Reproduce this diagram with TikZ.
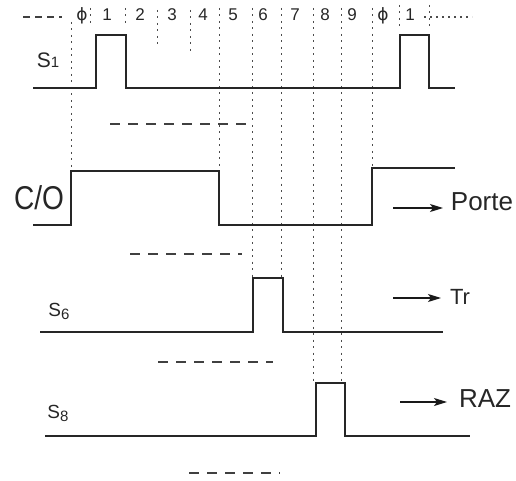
\documentclass[tikz,border=0pt]{standalone}
\usepackage{fontspec}
\setmainfont{Liberation Sans}
\newfontfamily\dvs{DejaVu Sans}
\usetikzlibrary{arrows.meta}
\begin{document}
\begin{tikzpicture}[x=1pt,y=-1pt,
  sig/.style={line width=1.7pt,black!85,line join=miter},
  grid/.style={line width=1pt,black!70,dash pattern=on 2pt off 4.5pt},
  dsh/.style={line width=1.5pt,black!75,dash pattern=on 10pt off 8pt},
  arr/.style={line width=1.3pt,black!90,-{Stealth[length=13pt,width=8pt,inset=3pt]}},
  dig/.style={font=\fontsize{17}{17}\selectfont,inner sep=0pt,text=black!85},
  lbl/.style={inner sep=0pt,text=black!85}]
\useasboundingbox (0,0) rectangle (516,481);
% vertical dotted guide lines
\foreach \x/\a/\b in {71/22/171, 90/8/24, 125/8/26, 157/10/45, 190/10/52,
  219/8/171, 252/8/278, 281/8/278, 313/8/383, 341/8/383, 372/8/168,
  399/5/30, 429/5/30}
  \draw[grid] (\x,\a) -- (\x,\b);
% top row labels
\draw[dsh,line width=1.2pt,dash pattern=on 7pt off 5pt] (23,17) -- (62,17);
\draw[grid,line width=1.2pt,dash pattern=on 2pt off 4pt] (424,17) -- (472,17);
\node[dig] (p0) at (82,16) {\dvs ϕ};
\foreach \x/\t [count=\i] in {107/1,140/2,172/3,203/4,233/5,263/6,295/7,325/8,352/9}
  \node[dig] (d\i) at (\x,15) {\t};
\node[dig] (p1) at (383,16) {\dvs ϕ};
\node[dig] (d10) at (410,15) {1};
% S1
\draw[sig] (33,88) -- (96,88) -- (96,35) -- (126,35) -- (126,88) -- (400,88)
  -- (400,35) -- (429,35) -- (429,88) -- (455,88);
\node[lbl] (s1) at (48,60) {\fontsize{21}{21}\selectfont S\fontsize{15}{15}\selectfont 1};
\draw[dsh] (110,124) -- (248,124);
% C/O
\draw[sig] (33,225) -- (71,225) -- (71,171) -- (219,171) -- (219,225) -- (372,225)
  -- (372,168) -- (455,168);
\node[lbl] (co) at (39,198) {\scalebox{0.85}[1]{\fontsize{33}{33}\selectfont C/O}};
\coordinate (a1s) at (393,208);
\coordinate (a1e) at (443,208);
\draw[arr] (a1s) -- (a1e);
\node[lbl,font=\fontsize{26}{26}\selectfont] (porte) at (482,202) {Porte};
\draw[dsh] (130,254) -- (242,254);
% S6
\draw[sig] (40,332) -- (253,332) -- (253,278) -- (283,278) -- (283,332) -- (443,332);
\node[lbl] (s6) at (59,311) {\fontsize{19}{19}\selectfont S\raisebox{-3pt}{\fontsize{15}{15}\selectfont 6}};
\coordinate (a2s) at (393,298);
\coordinate (a2e) at (441,298);
\draw[arr] (a2s) -- (a2e);
\node[lbl,font=\fontsize{22}{22}\selectfont] (tr) at (460,297) {Tr};
\draw[dsh] (158,362) -- (273,362);
% S8
\draw[sig] (45,436) -- (316,436) -- (316,383) -- (345,383) -- (345,436) -- (470,436);
\node[lbl] (s8) at (58,413) {\fontsize{19}{19}\selectfont S\raisebox{-3pt}{\fontsize{15}{15}\selectfont 8}};
\coordinate (a3s) at (400,402);
\coordinate (a3e) at (447,402);
\draw[arr] (a3s) -- (a3e);
\node[lbl,font=\fontsize{26}{26}\selectfont] (raz) at (485,399) {RAZ};
\draw[dsh] (189,473) -- (280,473);
\end{tikzpicture}
\end{document}
